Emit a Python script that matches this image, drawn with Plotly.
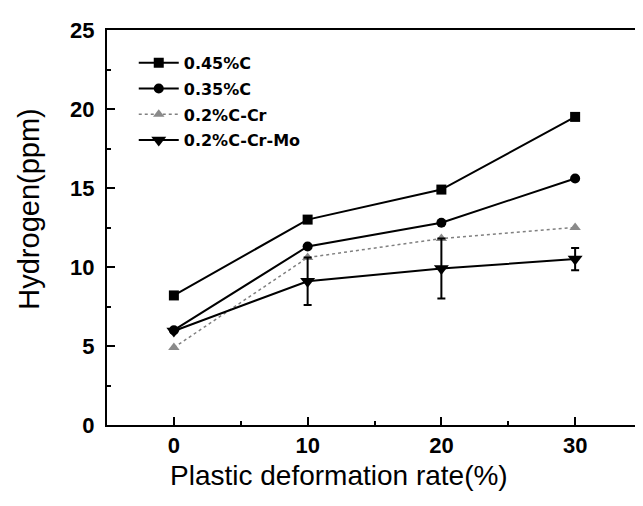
import plotly.graph_objects as go

rate = [0, 10, 20, 30]
c045 = [8.2, 13.0, 14.9, 19.5]
c035 = [6.0, 11.3, 12.8, 15.6]
c02cr = [4.9, 10.6, 11.8, 12.5]
c02crmo = [5.95, 9.1, 9.9, 10.5]
crmo_err = [0, 1.5, 1.9, 0.7]
names = ["0.45%C", "0.35%C", "0.2%C-Cr", "0.2%C-Cr-Mo"]
x_title = "Plastic deformation rate(%)"
y_title = "Hydrogen(ppm)"

FONT = "Liberation Sans, Arial"

fig = go.Figure()
fig.add_trace(go.Scatter(x=rate, y=c045, name=names[0], mode="lines+markers", legendgroup="a",
                         line=dict(color="black", width=2),
                         marker=dict(symbol="square", size=10, color="black")))
fig.add_trace(go.Scatter(x=rate, y=c035, name=names[1], mode="lines+markers", legendgroup="b",
                         line=dict(color="black", width=2),
                         marker=dict(symbol="circle", size=10, color="black")))
fig.add_trace(go.Scatter(x=rate, y=c02cr, name=names[2], mode="lines+markers", legendgroup="c",
                         line=dict(color="#808080", width=1.5, dash="dot"),
                         marker=dict(symbol="triangle-up", size=10, color="#8a8a8a")))
fig.add_trace(go.Scatter(x=rate, y=c02crmo, name=names[3], mode="lines+markers", legendgroup="d",
                         line=dict(color="black", width=2),
                         marker=dict(symbol="triangle-down", size=13, color="black"),
                         error_y=dict(type="data", array=crmo_err, visible=True,
                                      color="black", thickness=2, width=4)))

axis_common = dict(showline=True, linecolor="black", linewidth=2, mirror=True,
                   ticks="inside", ticklen=8, tickwidth=2, tickcolor="black",
                   showgrid=False, zeroline=False,
                   tickfont=dict(family=FONT, size=22, color="black", weight="bold"),
                   minor=dict(ticks="inside", ticklen=4, tickwidth=2, tickcolor="black", showgrid=False))

fig.update_xaxes(range=[-5, 35], tickvals=rate,
                 minor_tickvals=[5, 15, 25], ticklabelstandoff=0, **axis_common)
fig.update_yaxes(range=[0, 25], tickvals=[0, 5, 10, 15, 20, 25],
                 minor_tickvals=[2.5, 7.5, 12.5, 17.5, 22.5], ticklabelstandoff=6, **axis_common)

fig.add_annotation(text=x_title, xref="paper", yref="paper", x=0.434, y=0,
                   xanchor="center", yanchor="middle", yshift=-50, showarrow=False,
                   font=dict(family=FONT, size=28, color="black"))
fig.add_annotation(text=y_title, xref="paper", yref="paper", x=0, y=0.545,
                   xanchor="center", yanchor="middle", xshift=-78, textangle=-90,
                   showarrow=False,
                   font=dict(family=FONT, size=29, color="black"))

fig.update_layout(width=643, height=506,
                  margin=dict(l=99, r=7, t=22, b=89),
                  paper_bgcolor="white", plot_bgcolor="white",
                  showlegend=True,
                  legend=dict(x=0.05, y=0.96, xanchor="left", yanchor="top",
                              bgcolor="rgba(0,0,0,0)", tracegroupgap=2,
                              itemwidth=40,
                              font=dict(family="DejaVu Sans", size=16, color="black", weight="bold")))

fig.write_html("out.html")
